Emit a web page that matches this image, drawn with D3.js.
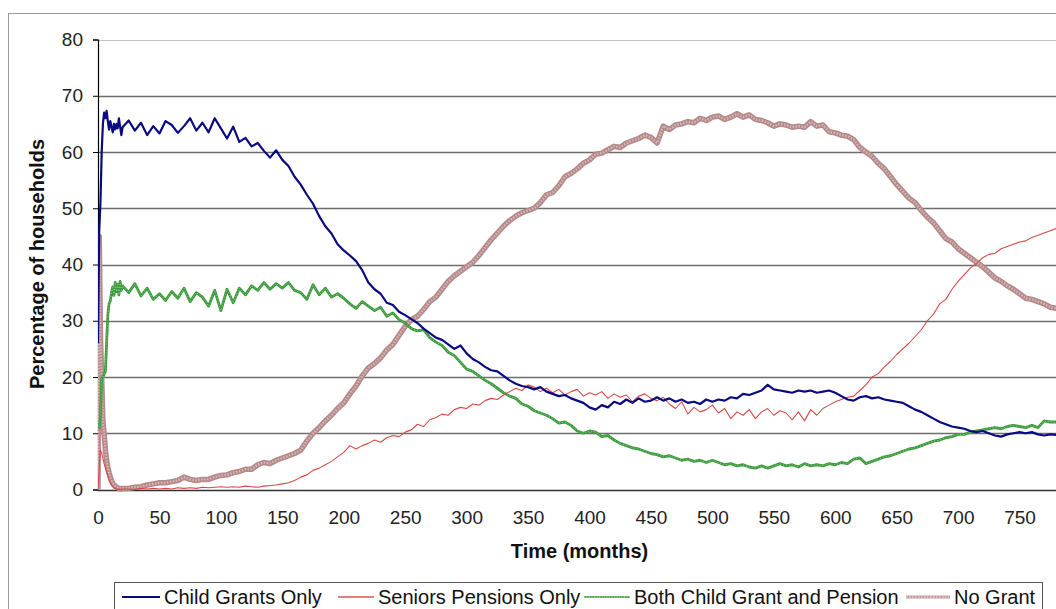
<!DOCTYPE html>
<html>
<head>
<meta charset="utf-8">
<script src="https://cdn.jsdelivr.net/npm/d3@7"></script>
<style>
  html, body { margin: 0; padding: 0; background: #fff; }
  svg { display: block; font-family: "Liberation Sans", Arial, sans-serif; }
</style>
</head>
<body>
<svg id="chart" width="1056" height="609"></svg>
<script>
// ---- data ----
const months = [...d3.range(0, 21), ...d3.range(25, 795, 5)];
const yTicks = [0, 10, 20, 30, 40, 50, 60, 70, 80];
const xTicks = d3.range(0, 800, 50);

const childGrants = [
  26, 46, 51, 60, 65, 67, 66, 67.3, 65.5, 64, 65.5, 64.5, 63.5, 65, 64, 65, 64.2, 66, 64.5, 63, 64.4,
  65.6, 63.8, 65.2, 63, 64.6, 63.3,
  65.5, 64.8, 63.4, 64.6, 66, 63.8, 65.2, 63.5, 66, 64.2,
  62.4, 64.5, 61.8, 62.5, 61, 61.6, 60.2, 59, 60.3, 58.6,
  57.5, 55.6, 54.2, 52.4, 50.8, 48.6, 46.8, 45.5, 43.6, 42.5,
  41.6, 40.6, 39, 36.8, 35.6, 34.8, 33.2, 32.8, 31.6, 31,
  30.3, 29.6, 28.6, 27.8, 27, 26.6, 25.8, 25, 25.6, 24.2,
  23.2, 22.6, 21.8, 21.2, 21, 20.2, 19.4, 18.8, 18.4, 18.2,
  17.8, 18.2, 17.4, 17, 16.6, 16.8, 16.2, 15.8, 15.4, 14.6,
  14.2, 15, 14.6, 15.6, 15.2, 16, 15.4, 16.2, 15.6, 15.8,
  16.4, 15.8, 16.2, 15.6, 16, 15.4, 15.6, 15.2, 16, 15.6,
  16, 15.8, 16.4, 16.2, 17, 16.8, 17.2, 17.6, 18.6, 17.8,
  17.6, 17.4, 17.2, 17.6, 17.4, 17.6, 17.2, 17.4, 17.6, 17.2,
  16.6, 16, 15.8, 16.4, 16.6, 16.2, 16.4, 16, 15.8, 15.6,
  15.4, 14.8, 14.2, 13.8, 13.2, 12.6, 12, 11.6, 11.2, 11,
  10.8, 10.4, 10.2, 10.4, 10, 9.6, 9.4, 9.8, 10, 10.2,
  10, 10.2, 9.8, 9.6, 9.8, 9.7, 10, 10.2
];

const seniorsPensions = [
  0, 4, 7, 6.5, 5.5, 4.6, 3.8, 3, 2.4, 1.6, 1.2, 0.8, 0.5, 0.3, 0.2, 0.1, 0.1, 0, 0.1, 0, 0.1,
  0.1, 0, 0.2, 0.1, 0.2, 0.1,
  0.2, 0.1, 0.3, 0.2, 0.3, 0.2, 0.4, 0.3, 0.4, 0.5,
  0.4, 0.5, 0.4, 0.6, 0.5, 0.4, 0.6, 0.7, 0.8, 1,
  1.2, 1.6, 2.2, 2.6, 3.4, 3.8, 4.4, 5, 5.8, 6.6,
  7.8, 7.2, 7.8, 8.2, 8.8, 8.4, 9.2, 9.6, 9.4, 10.2,
  10.6, 11.6, 11.2, 12.4, 12.8, 13.4, 13.2, 14.2, 14.6, 14.4,
  15.2, 15, 15.8, 16.2, 16, 16.8, 17.4, 18, 17.6, 18.6,
  18.2, 17.4, 18, 17.2, 17.8, 16.8, 17.4, 17.8, 16.6, 17.2,
  16.8, 17.4, 16.2, 17, 16.4, 16.8, 15.6, 16.6, 17, 16.2,
  15.8, 16.4, 15.2, 14.4, 15.6, 13.4, 14.6, 13.8, 14.2, 15,
  13.6, 14.4, 12.6, 13.8, 13.2, 14.2, 12.6, 13.8, 14.4, 13.2,
  14, 13.6, 12.4, 13.8, 12.2, 14.2, 13.2, 14.4, 15, 15.6,
  16, 16.4, 16.6, 17.6, 18.6, 20, 20.6, 21.8, 22.8, 24,
  25, 26, 27.2, 28.4, 30, 31.2, 33, 33.8, 35.6, 37,
  38.2, 39.4, 40.2, 41.2, 41.8, 42, 42.8, 43.2, 43.6, 44,
  44.2, 44.8, 45.2, 45.6, 46, 46.4, 46.8, 47
];

const bothGrantPension = [
  12, 11, 13, 19.8, 20, 20.5, 21, 26, 31, 33, 33.5, 35, 36, 34.5, 36.8, 35.2, 36.5, 34.6, 37, 35.4, 36.2,
  35, 36.6, 34.4, 35.8, 33.8, 34.8,
  33.6, 35.2, 34, 35.8, 33.4, 35, 34.2, 32.6, 35.4, 31.8,
  35.6, 33.2, 35.8, 34.6, 36.2, 35.4, 36.8, 35.6, 36.6, 35.8,
  36.8, 35.4, 35, 33.8, 36.4, 34.6, 35.8, 34.2, 34.8, 34,
  33, 32.2, 33.4, 32.6, 31.8, 32.4, 30.8, 31.4, 30.2, 29.6,
  28.6, 28.2, 28.4, 27, 26.2, 25.6, 24.4, 23.8, 22.6, 21.4,
  21, 20.2, 19.4, 18.8, 18, 17.2, 16.6, 16.2, 15.2, 14.8,
  14, 13.6, 13.2, 12.6, 11.8, 12, 11.4, 10.4, 10, 10.4,
  10.2, 9.4, 9.6, 8.8, 8.2, 7.8, 7.4, 7.2, 6.8, 6.4,
  6.2, 5.8, 6, 5.6, 5.2, 5.4, 5, 5.2, 4.8, 5.2,
  4.8, 4.4, 4.6, 4.2, 4.4, 4, 3.8, 4.2, 3.8, 4.2,
  4.6, 4.2, 4.4, 4, 4.6, 4.2, 4.4, 4.2, 4.6, 4.4,
  4.8, 4.6, 5.4, 5.6, 4.6, 5, 5.4, 5.8, 6, 6.4,
  6.8, 7.2, 7.4, 7.8, 8.2, 8.6, 8.8, 9.2, 9.4, 9.8,
  9.8, 10.2, 10.4, 10.6, 10.8, 11, 10.8, 11.2, 11.4, 11.2,
  11, 11.4, 11, 12.2, 12, 12, 11.8, 12
];

const noGrant = [
  0, 45, 27, 20, 12, 10, 7, 5.2, 4, 3, 2.2, 1.6, 1.1, 0.8, 0.6, 0.4, 0.3, 0.2, 0.2, 0.1, 0.2,
  0.2, 0.4, 0.5, 0.8, 1, 1.2,
  1.2, 1.4, 1.6, 2.2, 1.8, 1.6, 1.8, 1.8, 2.2, 2.5,
  2.6, 3, 3.2, 3.6, 3.6, 4.4, 4.8, 4.6, 5.2, 5.6,
  6, 6.4, 7, 8.6, 10, 11, 12.2, 13.2, 14.4, 15.4,
  17, 18.4, 20.2, 21.6, 22.4, 23.4, 24.8, 25.8, 27.4, 29,
  30.2, 30.8, 32, 33.4, 34.2, 35.6, 37, 38, 38.8, 39.6,
  40.4, 41.6, 43, 44.4, 45.6, 46.8, 47.8, 48.6, 49.2, 49.6,
  50, 51, 52.4, 52.8, 54, 55.6, 56.2, 57, 58, 58.6,
  59.6, 59.8, 60.4, 61, 60.8, 61.6, 62, 62.4, 63, 62.6,
  61.6, 64.6, 64, 64.8, 65, 65.4, 65.2, 66, 65.6, 66.2,
  66.4, 65.8, 66.2, 66.8, 66.2, 66.6, 65.8, 65.6, 65.2, 64.6,
  65, 64.8, 64.4, 64.6, 64.4, 65.4, 64.6, 64.8, 63.6, 63.4,
  63, 62.8, 62.2, 60.8, 60, 59.2, 58, 57, 55.6, 54.2,
  53, 51.8, 51, 49.6, 48.4, 47.4, 46, 44.6, 44, 42.8,
  42, 41.2, 40.4, 39.6, 38.6, 37.6, 37, 36.2, 35.6, 34.8,
  34, 33.8, 33.4, 33, 32.4, 32.2, 32, 31.8
];

const seriesNames = ["Child Grants Only", "Seniors Pensions Only", "Both Child Grant and Pension", "No Grant"];

// ---- chart ----
const svg = d3.select("#chart");
const W = 1056, H = 609;
const plot = { left: 98, top: 39.5, bottom: 489.5, right: 1081 };

const x = d3.scaleLinear().domain([0, 800]).range([plot.left, plot.right]);
const y = d3.scaleLinear().domain([0, 80]).range([plot.bottom, plot.top]);

svg.append("rect").attr("width", W).attr("height", H).attr("fill", "#fff");
// outer chart frame
svg.append("rect").attr("x", 8.5).attr("y", 13.5).attr("width", 1100).attr("height", 700)
  .attr("fill", "none").attr("stroke", "#9a9a9a").attr("stroke-width", 1);

// gridlines
svg.append("g").selectAll("line").data(yTicks.filter(d => d > 0)).join("line")
  .attr("x1", plot.left).attr("x2", W + 10)
  .attr("y1", d => Math.round(y(d)) + 0.5).attr("y2", d => Math.round(y(d)) + 0.5)
  .attr("stroke", d => d === 80 ? "#c4c4c4" : "#6e6e6e").attr("stroke-width", d => d === 80 ? 1.2 : 1.3);

// y axis
const yAxis = d3.axisLeft(y).tickValues(yTicks).tickSize(5).tickPadding(10).tickFormat(d3.format("d"));
const gy = svg.append("g").attr("transform", `translate(${plot.left},0)`).call(yAxis);
gy.select(".domain").attr("stroke", "#000").attr("stroke-width", 1.2);
gy.selectAll(".tick line").attr("stroke", "#000");
gy.selectAll(".tick text").attr("font-size", 19).attr("fill", "#222").attr("font-family", "Liberation Sans, Arial, sans-serif");

// x axis
const xAxis = d3.axisBottom(x).tickValues(xTicks).tickSize(0).tickPadding(20).tickFormat(d3.format("d"));
const gx = svg.append("g").attr("transform", `translate(0,${Math.round(y(0)) + 0.5})`).call(xAxis);
gx.select(".domain").attr("stroke", "#333").attr("stroke-width", 1.3).attr("d", `M${plot.left},0H${W + 10}`);
gx.selectAll(".tick text").attr("font-size", 19).attr("fill", "#222").attr("font-family", "Liberation Sans, Arial, sans-serif");

// axis titles
svg.append("text").attr("x", x(400) - 10).attr("y", 558).attr("text-anchor", "middle")
  .attr("font-size", 20).attr("font-weight", "bold").attr("fill", "#111").text("Time (months)");
svg.append("text").attr("transform", "translate(44,264) rotate(-90)").attr("text-anchor", "middle")
  .attr("font-size", 20).attr("font-weight", "bold").attr("fill", "#111").text("Percentage of households");

// series
const line = d3.line().x((d, i) => x(months[i])).y(d => y(d));
const styles = [
  [{ stroke: "#0a0a80", width: 2.2 }],
  [{ stroke: "#d84848", width: 1.1 }],
  [{ stroke: "#3d9a3d", width: 2.8 }, { stroke: "#8fd08f", width: 1, dash: "1 2" }],
  [{ stroke: "#b48a8a", width: 5.5 }, { stroke: "#d9b8b8", width: 2.2, dash: "1.5 1.5" }]
];
const seriesData = [childGrants, seniorsPensions, bothGrantPension, noGrant];

const clipId = "plotClip";
svg.append("clipPath").attr("id", clipId).append("rect")
  .attr("x", plot.left).attr("y", 0).attr("width", 1200).attr("height", plot.bottom + 3);

const gLines = svg.append("g").attr("clip-path", `url(#${clipId})`);
// draw order: no grant at back, then green, red, navy
[3, 2, 1, 0].forEach(si => {
  styles[si].forEach(st => {
    gLines.append("path").datum(seriesData[si]).attr("d", line)
      .attr("fill", "none").attr("stroke", st.stroke).attr("stroke-width", st.width)
      .attr("stroke-linejoin", "round").attr("stroke-dasharray", st.dash || null);
  });
});

// legend
const lg = svg.append("g");
lg.append("rect").attr("x", 114.5).attr("y", 582.5).attr("width", 928).attr("height", 40)
  .attr("fill", "#fff").attr("stroke", "#555").attr("stroke-width", 1);
const legendX = [122, 338, 584, 906];
const legendLen = [38, 36, 46, 44];
const legendStyles = [
  [{ stroke: "#0a0a80", width: 2 }],
  [{ stroke: "#e05050", width: 1.4 }],
  [{ stroke: "#5aaa5a", width: 2.2 }, { stroke: "#b8e0b8", width: 1, dash: "1 1.5" }],
  [{ stroke: "#c49a9a", width: 3.2 }, { stroke: "#e6cccc", width: 1.4, dash: "1.5 1.5" }]
];
seriesNames.forEach((name, i) => {
  legendStyles[i].forEach(st => {
    lg.append("line").attr("x1", legendX[i]).attr("x2", legendX[i] + legendLen[i])
      .attr("y1", 597).attr("y2", 597)
      .attr("stroke", st.stroke).attr("stroke-width", st.width).attr("stroke-dasharray", st.dash || null);
  });
  lg.append("text").attr("x", legendX[i] + legendLen[i] + 4).attr("y", 604)
    .attr("font-size", 20).attr("fill", "#111").text(name);
});
</script>
</body>
</html>
